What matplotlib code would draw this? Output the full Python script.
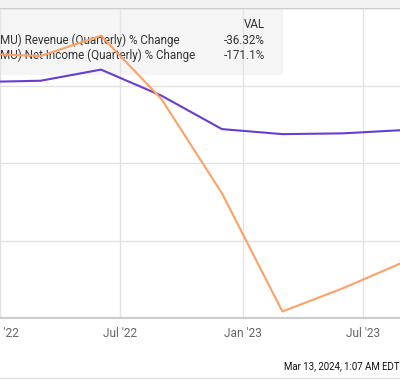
import numpy as np
import pandas as pd
import matplotlib
matplotlib.use('Agg')
import matplotlib.pyplot as plt
import matplotlib.dates as mdates
from matplotlib.patches import Rectangle

plt.rcParams['font.family'] = ['Roboto', 'DejaVu Sans']

# quarterly report dates (fiscal quarter ends)
dates = pd.to_datetime(['2021-06-03', '2021-09-02', '2021-12-02', '2022-03-03', '2022-06-02',
                        '2022-09-01', '2022-12-01', '2023-03-02', '2023-06-01', '2023-08-31',
                        '2023-11-30'])
# % change vs first point
revenue_pct = [0.0, 11.5, 3.6, 4.9, 16.4, -10.5, -45.0, -50.2, -49.4, -46.0, -36.32]
net_income_pct = [0.0, 56.8, 32.9, 30.4, 51.4, -14.0, -111.2, -233.3, -209.3, -182.4, -171.1]

legend_names = ['MU) Revenue (Quarterly) % Change', 'MU) Net Income (Quarterly) % Change']
legend_vals = ['-36.32%', '-171.1%']
tick_dates = pd.to_datetime(['2022-01-01', '2022-07-01', '2023-01-01', '2023-07-01'])
tick_labels = ["Jan '22", "Jul '22", "Jan '23", "Jul '23"]
stamp = 'Mar 13, 2024, 1:07 AM EDT'

purple = '#6a3bd2'
orange = '#ffa066'

fig = plt.figure(figsize=(4, 3.8), dpi=100)
fig.patch.set_facecolor('white')
ax = fig.add_axes([0, 62 / 380, 1, 310 / 380])

ax.plot(dates, revenue_pct, color=purple, lw=1.5, zorder=3)
ax.plot(dates, net_income_pct, color=orange, lw=1.5, zorder=3)

ax.set_xlim(pd.Timestamp('2022-01-10'), pd.Timestamp('2023-08-26'))
ax.set_ylim(-240, 80)
ax.set_yticks([-240, -160, -80, 0, 80])
ax.set_xticks(tick_dates)
ax.set_xticklabels(tick_labels)
ax.tick_params(axis='x', length=0, pad=6.5, labelsize=8.6, labelcolor='#666666')
ax.tick_params(axis='y', length=0, labelleft=False)
ax.set_axisbelow(True)
ax.grid(True, color='#e2e2e2', lw=1)
for s in ['left', 'right']:
    ax.spines[s].set_visible(False)
ax.spines['top'].set_color('#cccccc')
ax.spines['top'].set_linewidth(1)
ax.spines['bottom'].set_color('#cccccc')
ax.spines['bottom'].set_linewidth(1.5)

# legend box
tr = ax.transAxes
box = Rectangle((0, (318 - 74.5) / 310), 283 / 400, 66.5 / 310, transform=tr,
                facecolor='#f5f5f5', edgecolor='none', zorder=0.2)
ax.add_patch(box)
ax.text(265 / 400, (318 - 24) / 310, 'VAL', transform=tr, ha='right', va='center',
        fontsize=8.4, color='#333333')
for i, (name, val) in enumerate(zip(legend_names, legend_vals)):
    yy = (318 - (40 + 15.5 * i)) / 310
    ax.text(0, yy, name, transform=tr, ha='left', va='center', fontsize=8.4, color='#333333', zorder=2)
    ax.text(265 / 400, yy, val, transform=tr, ha='right', va='center', fontsize=8.4,
            color='#333333', zorder=2)

# top strip and bottom border
fig.patches.append(Rectangle((0, 372 / 380), 1, 8 / 380, transform=fig.transFigure,
                             facecolor='#f2f2f2', edgecolor='none', zorder=0))
fig.add_artist(plt.Line2D([0, 1], [2.5 / 380, 2.5 / 380], transform=fig.transFigure,
                          color='#e0e0e0', lw=1))
fig.text(1.0, 13.5 / 380, stamp, ha='right', va='center', fontsize=6.9, color='#111111')

fig.savefig('out.png', dpi=100)
